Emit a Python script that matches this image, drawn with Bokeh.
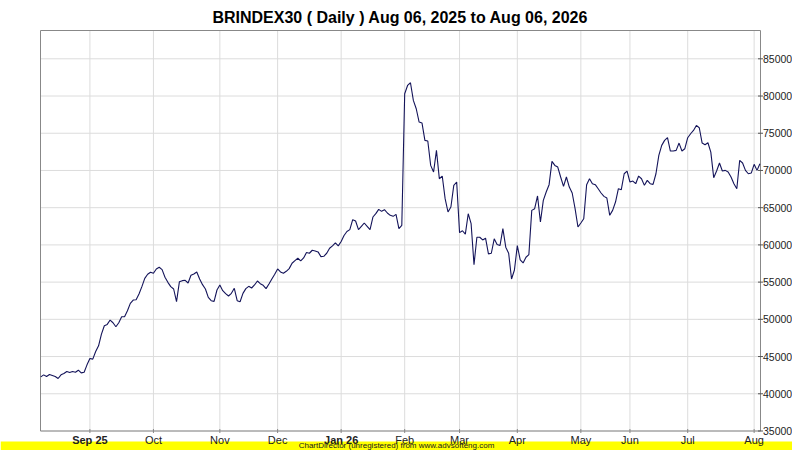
from math import pi
from bokeh.plotting import figure
from bokeh.models import Range1d, ColumnDataSource
from bokeh.core.properties import value
from bokeh.embed import file_html
from bokeh.resources import INLINE

# ---- data ----
closes = [
    42272, 42542, 42317, 42587, 42452, 42317, 42048, 42542, 42721, 42990,
    42856, 42990, 42901, 43170, 42811, 42901, 43888, 44741, 44651, 45683,
    46446, 48017, 49139, 49319, 49902, 49543, 49004, 49543, 50351, 50351,
    51159, 52146, 52595, 52640, 53403, 54390, 55512, 56051, 56320, 56185,
    56769, 56993, 56679, 55647, 54973, 54390, 54076, 52370, 55063, 55198,
    55243, 54884, 55916, 56095, 56365, 55422, 54659, 54076, 52954, 52505,
    52415, 53941, 54614, 53851, 53448, 53133, 53492, 54166, 52505, 52370,
    53492, 54121, 54435, 54210, 54614, 55153, 54794, 54570, 54121, 54749,
    55422, 56051, 56769, 56365, 56185, 56454, 56814, 57532, 57891, 58205,
    57846, 58250, 58968, 58878, 59282, 59192, 59058, 58429, 58474, 58878,
    59551, 59865, 60269, 59865, 60449, 61257, 61795,
    62047, 63389, 63210, 62047, 62495, 62942, 62495, 62047, 63747, 64195,
    64776, 64508, 64732, 64284, 63971, 63837, 64105, 62181,
    62630, 80300, 81420, 81780, 79410, 78290, 76500, 76370, 74040, 73950,
    70680, 69790, 72700, 68890, 69250, 66210, 64420, 65090, 68000, 68450,
    61650, 61900, 61450, 64190, 62850, 57350, 61030, 61030, 60670, 60900,
    58790, 58880, 60810, 60040, 59910, 62180, 59690, 58880, 55420, 56630,
    59910, 57980, 57570, 58340, 58700, 64640, 64860, 66570, 63080, 65990,
    67100, 68090, 71220, 70680, 70460, 69120, 67860, 69120, 67770, 66970,
    64870, 62400, 62940, 63520, 68090, 68890, 68220, 68090, 67550, 66970,
    66520, 66300, 63970, 64640, 65760, 67550, 67420, 69560, 69920, 68450,
    68580, 68220, 69250, 68890, 68000, 68670, 68220, 68130, 69560, 72020,
    73370, 74040, 74400, 72610, 72610, 72700, 73680, 72610, 72920, 74400,
    74930, 75380, 76050, 75740, 73680, 73460, 73720, 72470, 69030, 69920,
    71000, 69920, 70010, 69790, 69120, 68220, 67550, 71350, 71000, 70010,
    69560, 69650, 70820, 70010, 70910,
]
day_index = list(range(len(closes)))

month_start_index = [17, 39, 62, 82, 104, 126, 145, 165, 187, 204, 224, 247]
month_labels = ["Sep 25", "Oct", "Nov", "Dec", "Jan 26", "Feb", "Mar", "Apr",
                "May", "Jun", "Jul", "Aug"]
month_is_year = [True, False, False, False, True, False, False, False,
                 False, False, False, False]
y_ticks = [35000, 40000, 45000, 50000, 55000, 60000, 65000, 70000, 75000,
           80000, 85000]
y_tick_labels = [str(t) for t in y_ticks]
y_min, y_max = 35000, 88800

title_text = "BRINDEX30 ( Daily ) Aug 06, 2025 to Aug 06, 2026"
footer_text = "ChartDirector (unregistered) from www.advsofteng.com"

# ---- layout (pixels) ----
W, H = 792, 450
BOX_L_PX, BOX_R_PX = 40.0, 760.0      # chart box, left / right edge
FIRST_PX, DAY_PX = 40.3, 2.888        # first trading day, pixels per day
Y0_PX, PX_PER_UNIT = 430.5, 7.444 / 1000.0   # y_min position, value scale
FOOTER_TOP_PX = 441.0
FOOTER_TEXT_PX = 445.0

x_lo = (0 - FIRST_PX) / DAY_PX
x_hi = (W - FIRST_PX) / DAY_PX
y_hi = y_min + Y0_PX / PX_PER_UNIT
y_lo = y_min - (H - Y0_PX) / PX_PER_UNIT
box_l = (BOX_L_PX - FIRST_PX) / DAY_PX
box_r = (BOX_R_PX - FIRST_PX) / DAY_PX
footer_top = y_min - (FOOTER_TOP_PX - Y0_PX) / PX_PER_UNIT
footer_mid = y_min - (FOOTER_TEXT_PX - Y0_PX) / PX_PER_UNIT

FONT = "Liberation Sans"
GRID = "#dcdcdc"
BORDER = "#888888"
TEXT = "#222222"

p = figure(width=W, height=H, output_backend="svg", toolbar_location=None,
           title=None, x_range=Range1d(x_lo, x_hi), y_range=Range1d(y_lo, y_hi),
           min_border=0)
p.xaxis.visible = False
p.yaxis.visible = False
p.xgrid.visible = False
p.ygrid.visible = False
p.outline_line_color = None
p.background_fill_color = "white"
p.border_fill_color = "white"

n_m = len(month_start_index)
n_y = len(y_ticks)

# grid lines inside the chart box
p.segment(x0=[box_l] * n_y, y0=y_ticks, x1=[box_r] * n_y, y1=y_ticks,
          line_color=GRID, line_width=1)
p.segment(x0=month_start_index, y0=[y_min] * n_m,
          x1=month_start_index, y1=[y_max] * n_m,
          line_color=GRID, line_width=1)

# chart box border
p.quad(left=[box_l], right=[box_r], bottom=[y_min], top=[y_max],
       fill_color=None, line_color=BORDER, line_width=1)

# tick marks
p.scatter(x=[box_r] * n_y, y=y_ticks, marker="dash", size=5,
          line_color="#555555", line_width=1)
p.scatter(x=month_start_index, y=[y_min] * n_m, marker="dash", angle=pi / 2,
          size=4, line_color=BORDER, line_width=1)

# price line
src = ColumnDataSource(dict(i=day_index, close=closes))
p.line(x="i", y="close", source=src, line_color="#14145a", line_width=1.1)

# value labels on the right
p.text(x=[box_r] * n_y, y=y_ticks, text=y_tick_labels, x_offset=2.5,
       text_align="left", text_baseline="middle", text_font=value(FONT),
       text_font_size=value("10.5px"), text_color=TEXT)

# footer bar (drawn before the month labels so it never hides them)
p.quad(left=[x_lo], right=[x_hi], bottom=[y_lo], top=[footer_top],
       fill_color="#ffff00", line_color=None)
p.text(x=[(x_lo + x_hi) / 2], y=[footer_mid], text=[footer_text],
       text_align="center", text_baseline="middle", text_font=value(FONT),
       text_font_size=value("8px"), text_color="#202020")

# month labels below the box (year-start months in bold)
for style, flag in (("normal", False), ("bold", True)):
    ks = [k for k in range(n_m) if month_is_year[k] == flag]
    p.text(x=[month_start_index[k] for k in ks], y=[y_min] * len(ks),
           text=[month_labels[k] for k in ks], y_offset=9.0,
           text_align="center", text_baseline="alphabetic",
           text_font=value(FONT), text_font_size=value("11px"),
           text_font_style=value(style), text_color=TEXT)

# title
p.text(x=[(box_l + box_r) / 2], y=[y_max], text=[title_text], y_offset=-13.5,
       text_align="center", text_baseline="alphabetic", text_font=value(FONT),
       text_font_size=value("16px"), text_font_style=value("bold"),
       text_color="#000000")

open("out.html", "w").write(file_html(p, INLINE))
